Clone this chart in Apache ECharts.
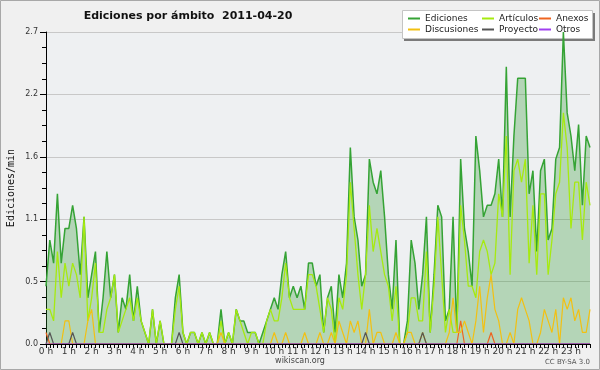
<!DOCTYPE html>
<html><head><meta charset="utf-8">
<script src="https://cdn.jsdelivr.net/npm/echarts@6/dist/echarts.min.js"></script>
<style>html,body{margin:0;padding:0;background:#f0f0f0}#c{width:600px;height:370px}</style>
</head><body><div id="c"></div>
<script>
const hourLabels = ['0 h','1 h','2 h','3 h','4 h','5 h','6 h','7 h','8 h','9 h','10 h','11 h','12 h','13 h','14 h','15 h','16 h','17 h','18 h','19 h','20 h','21 h','22 h','23 h'];
const yTicks = [0, 0.54, 1.08, 1.62, 2.16, 2.7];

const ediciones = [
0.5,0.9,0.7,1.3,0.7,1.0,1.0,1.2,1.0,0.6,
1.1,0.4,0.6,0.8,0.1,0.4,0.8,0.4,0.6,0.1,
0.4,0.3,0.6,0.2,0.5,0.2,0.1,0,0.3,0,
0.2,0,0,0,0.4,0.6,0.1,0,0.1,0.1,
0,0.1,0,0.1,0,0,0.3,0,0.1,0,
0.3,0.2,0.2,0.1,0.1,0.1,0,0.1,0.2,0.3,
0.4,0.3,0.6,0.8,0.4,0.5,0.4,0.5,0.3,0.7,
0.7,0.5,0.6,0.1,0.4,0.5,0.1,0.6,0.4,0.7,
1.7,1.1,0.9,0.5,0.6,1.6,1.4,1.3,1.5,1.1,
0.6,0.3,0.9,0,0,0.2,0.9,0.7,0.3,0.6,
1.1,0.1,0.6,1.2,1.1,0.2,0.3,1.1,0.1,1.6,
1.0,0.8,0.5,1.8,1.5,1.1,1.2,1.2,1.3,1.6,
1.1,2.4,1.1,1.8,2.3,2.3,2.3,1.3,1.5,0.8,
1.5,1.6,0.9,1.0,1.6,1.7,2.7,2.0,1.8,1.5,
1.9,1.2,1.8,1.7];

const articulos = [
0.3,0.3,0.2,0.8,0.4,0.7,0.5,0.7,0.6,0.4,
1.1,0.2,0.4,0.7,0.1,0.1,0.3,0.4,0.6,0.1,
0.2,0.3,0.4,0.2,0.4,0.2,0.1,0,0.3,0,
0.2,0,0,0,0.3,0.5,0.1,0,0.1,0.1,
0,0.1,0,0.1,0,0,0.2,0,0.1,0,
0.3,0.2,0.1,0,0.1,0.1,0,0,0.2,0.3,
0.2,0.2,0.4,0.7,0.4,0.3,0.3,0.3,0.3,0.6,
0.6,0.5,0.3,0.1,0.4,0.3,0,0.4,0.3,0.6,
1.4,1.0,0.6,0.3,0.6,1.2,0.8,1.0,0.8,0.6,
0.5,0.2,0.5,0,0,0.1,0.4,0.4,0.2,0.2,
0.8,0.1,0.5,1.1,0.6,0.1,0.3,0.1,0.1,1.2,
0.9,0.5,0.5,0.4,0.8,0.9,0.8,0.6,0.7,1.3,
1.1,1.8,0.6,1.5,1.6,1.4,1.6,0.7,1.2,0.6,
1.3,1.3,0.6,0.9,1.3,1.4,2.0,1.7,1.0,1.4,
1.4,0.9,1.4,1.2];

const discusiones = [
0,0,0,0,0,0.2,0.2,0,0,0,
0,0.2,0.3,0,0,0,0,0,0,0,
0,0,0,0,0,0,0,0,0,0,
0,0,0,0,0,0,0,0,0,0,
0,0,0,0,0,0,0.1,0,0,0,
0,0,0,0,0,0,0,0,0,0,
0.1,0,0,0.1,0,0,0,0,0.1,0,
0,0,0.1,0,0,0.1,0,0.2,0.1,0,
0.2,0.1,0.2,0,0,0.3,0,0.1,0.1,0,
0,0,0.1,0,0,0.1,0.1,0,0,0.1,
0,0,0,0,0,0,0.1,0.4,0.1,0.1,
0.2,0.1,0,0.2,0.5,0.1,0.4,0.6,0.3,0.2,
0,0,0.1,0,0.3,0.4,0.3,0.2,0,0,
0.1,0.3,0.2,0.1,0.3,0,0.4,0.3,0.4,0.2,
0.3,0.1,0.1,0.3];

const proyecto = [
0,0.1,0,0,0,0,0,0.1,0,0,
0,0,0,0,0,0,0,0,0,0,
0,0,0,0,0,0,0,0,0,0,
0,0,0,0,0,0.1,0,0,0,0,
0,0,0,0,0,0,0,0,0,0,
0,0,0,0,0,0,0,0,0,0,
0,0,0,0,0,0,0,0,0,0,
0,0,0,0,0,0,0,0,0,0,
0,0,0,0,0.1,0,0,0,0,0,
0,0,0,0,0,0,0,0,0,0.1,
0,0,0,0,0,0,0,0,0,0,
0,0,0,0,0,0,0,0,0,0,
0,0,0,0,0,0,0,0,0,0,
0,0,0,0,0,0,0,0,0,0,
0,0,0,0];

const anexos = [
0.1,0,0,0,0,0,0,0,0,0,
0,0,0,0,0,0,0,0,0,0,
0,0,0,0,0,0,0,0,0,0,
0,0,0,0,0,0,0,0,0,0,
0,0,0,0,0,0,0,0,0,0,
0,0,0,0,0,0,0,0,0,0,
0,0,0,0,0,0,0,0,0,0,
0,0,0,0,0,0,0,0,0,0,
0,0,0,0,0,0,0,0,0,0,
0,0,0,0,0,0,0,0,0,0,
0,0,0,0,0,0,0,0,0,0.2,
0,0,0,0,0,0,0,0.1,0,0,
0,0,0,0,0,0,0,0,0,0,
0,0,0,0,0,0,0,0,0,0,
0,0,0,0];

const otros = [
0,0,0,0,0,0,0,0,0,0,
0,0,0,0,0,0,0,0,0,0,
0,0,0,0,0,0,0,0,0,0,
0,0,0,0,0,0,0,0,0,0,
0,0,0,0,0,0,0,0,0,0,
0,0,0,0,0,0,0,0,0,0,
0,0,0,0,0,0,0,0,0,0,
0,0,0,0,0,0,0,0,0,0,
0,0,0,0,0,0,0,0,0,0,
0,0,0,0,0,0,0,0,0,0,
0,0,0,0,0,0,0,0,0,0,
0,0,0,0,0,0,0,0,0,0,
0,0,0,0,0,0,0,0,0,0,
0,0,0,0,0,0,0,0,0,0,
0,0,0,0];

const slots = [];
for (let i = 0; i < ediciones.length; i++) slots.push(i);

const chart = echarts.init(document.getElementById('c'), null, {renderer: 'canvas'});

function lineSeries(name, data, color, width) {
  return {
    name: name, type: 'line', data: data, symbol: 'none', showSymbol: false,
    lineStyle: {color: color, width: width}, itemStyle: {color: color},
    silent: true, animation: false
  };
}

const legendText = {fontSize: 9, fontFamily: 'DejaVu Sans', color: '#222', lineHeight: 11};
function legendCol(names, left) {
  return {
    data: names, orient: 'vertical', left: left, top: 13, padding: 0,
    itemWidth: 12, itemHeight: 2, itemGap: 0, icon: 'rect',
    selectedMode: false, textStyle: legendText, z: 6
  };
}

const edSeries = lineSeries('Ediciones', ediciones, '#35a335', 1.5);
edSeries.areaStyle = {color: 'rgba(40,150,40,0.42)'};

const option = {
  animation: false,
  backgroundColor: '#f0f0f0',
  grid: {left: 46, right: 10, top: 32, bottom: 26, show: true, backgroundColor: '#eef0f2', borderWidth: 0},
  legend: [
    legendCol(['Ediciones', 'Discusiones'], 408),
    legendCol(['Artículos', 'Proyecto'], 482),
    legendCol(['Anexos', 'Otros'], 539)
  ],
  xAxis: {
    type: 'category', data: slots, boundaryGap: false, z: 10,
    axisLine: {lineStyle: {color: '#000', width: 1}},
    axisTick: {interval: 0, length: 4, lineStyle: {color: '#000'}},
    axisLabel: {
      interval: 0, margin: 3, fontSize: 9, fontFamily: 'DejaVu Sans', color: '#333',
      formatter: function (v, i) { return i % 6 === 0 ? hourLabels[i / 6] : ''; }
    },
    splitLine: {show: false}
  },
  yAxis: {
    type: 'value', min: yTicks[0], max: yTicks[yTicks.length - 1], interval: yTicks[1],
    axisLine: {show: true, lineStyle: {color: '#000', width: 1}},
    axisTick: {show: true, length: 6, lineStyle: {color: '#000'}},
    minorTick: {show: true, splitNumber: 4, length: 4, lineStyle: {color: '#000'}},
    axisLabel: {
      margin: 8, fontSize: 8, fontFamily: 'DejaVu Sans', color: '#333',
      formatter: function (v) { return v.toFixed(1); }
    },
    splitLine: {show: true, lineStyle: {color: '#c8c8c8', width: 1}}
  },
  graphic: [
    {type: 'rect', shape: {x: 0.5, y: 0.5, width: 599, height: 369}, style: {fill: 'none', stroke: '#a8a8a8', lineWidth: 1}, z: 1, silent: true},
    {type: 'rect', shape: {x: 404, y: 13, width: 191, height: 28}, style: {fill: '#7a7a7a'}, z: 3, silent: true},
    {type: 'rect', shape: {x: 402.5, y: 10.5, width: 190, height: 28}, style: {fill: '#ffffff', stroke: '#c4c4c4', lineWidth: 1}, z: 3, silent: true},
    {type: 'text', x: 188, y: 16, style: {text: 'Ediciones por ámbito  2011-04-20', font: 'bold 11px "DejaVu Sans"', fill: '#111', textAlign: 'center', textVerticalAlign: 'middle'}, z: 5, silent: true},
    {type: 'text', x: 11, y: 188, rotation: Math.PI / 2, style: {text: 'Ediciones/min', font: '10px "DejaVu Sans Mono"', fill: '#111', textAlign: 'center', textVerticalAlign: 'middle'}, z: 5, silent: true},
    {type: 'text', x: 300, y: 361, style: {text: 'wikiscan.org', font: '8px "DejaVu Sans"', fill: '#444', textAlign: 'center', textVerticalAlign: 'middle'}, z: 5, silent: true},
    {type: 'text', x: 590, y: 362, style: {text: 'CC BY-SA 3.0', font: '7px "DejaVu Sans"', fill: '#555', textAlign: 'right', textVerticalAlign: 'middle'}, z: 5, silent: true}
  ],
  series: [
    edSeries,
    lineSeries('Artículos', articulos, '#a6ea10', 1.3),
    lineSeries('Anexos', anexos, '#ee6420', 1.2),
    lineSeries('Discusiones', discusiones, '#f2c012', 1.2),
    lineSeries('Proyecto', proyecto, '#555555', 1.2),
    lineSeries('Otros', otros, '#a040f0', 1.2)
  ]
};
chart.setOption(option);
</script>
</body></html>
